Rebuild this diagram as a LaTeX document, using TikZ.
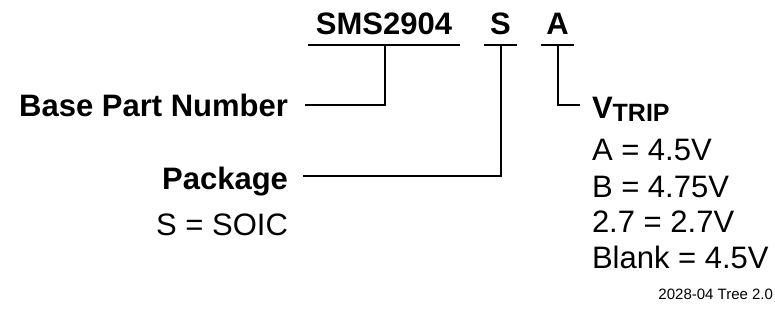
\documentclass[tikz,border=0pt]{standalone}
\usepackage{fontspec}
\setmainfont{Liberation Sans}
\begin{document}
\begin{tikzpicture}[x=1pt,y=-1pt,
  lbl/.style={inner sep=0pt,outer sep=0pt,font=\fontsize{31}{31}\selectfont},
  blbl/.style={lbl,font=\fontsize{31}{31}\selectfont\bfseries},
  small/.style={inner sep=0pt,outer sep=0pt,font=\fontsize{15}{15}\selectfont},
  wire/.style={line width=1.8pt,line cap=butt,line join=miter}]
\useasboundingbox (0,0) rectangle (775,320);
% header part-number fields
\node[blbl,anchor=base] (sms) at (384,35) {SMS2904};
\node[blbl,anchor=base] (pkg) at (500.5,35) {S};
\node[blbl,anchor=base] (vtr) at (557.5,35) {A};
% underlines
\coordinate (smsL) at (308,45); \coordinate (smsR) at (460,45);
\coordinate (pkgL) at (484,45); \coordinate (pkgR) at (517,45);
\coordinate (vtrL) at (541,45); \coordinate (vtrR) at (574,45);
\draw[wire] (smsL) -- (smsR);
\draw[wire] (pkgL) -- (pkgR);
\draw[wire] (vtrL) -- (vtrR);
% labels
\node[blbl,anchor=base east] (bpn) at (288,117) {Base Part Number};
\node[blbl,anchor=base east] (pk) at (288,190) {Package};
\node[lbl,anchor=base east] (soic) at (288,235) {S = SOIC};
\node[lbl,anchor=base west,font=\fontsize{31}{31}\selectfont\bfseries] (vt) at (592,119) {V\raisebox{-3pt}{\fontsize{25}{25}\selectfont TRIP}};
\node[lbl,anchor=base west] (va) at (592,161) {A = 4.5V};
\node[lbl,anchor=base west] (vb) at (592,197) {B = 4.75V};
\node[lbl,anchor=base west] (vc) at (592,232) {2.7 = 2.7V};
\node[lbl,anchor=base west] (vd) at (592,268) {Blank = 4.5V};
\node[small,anchor=base east] (foot) at (773,299) {2028-04 Tree 2.0};
% connectors
\coordinate (smsM) at (385,45);
\coordinate (bpnE) at (305,105);
\coordinate (pkgM) at (501,45);
\coordinate (pkE) at (303,176);
\coordinate (vtrM) at (558,45);
\coordinate (vtW) at (580,105);
\draw[wire] (smsM) |- (bpnE);
\draw[wire] (pkgM) |- (pkE);
\draw[wire] (vtrM) |- (vtW);
\end{tikzpicture}
\end{document}
